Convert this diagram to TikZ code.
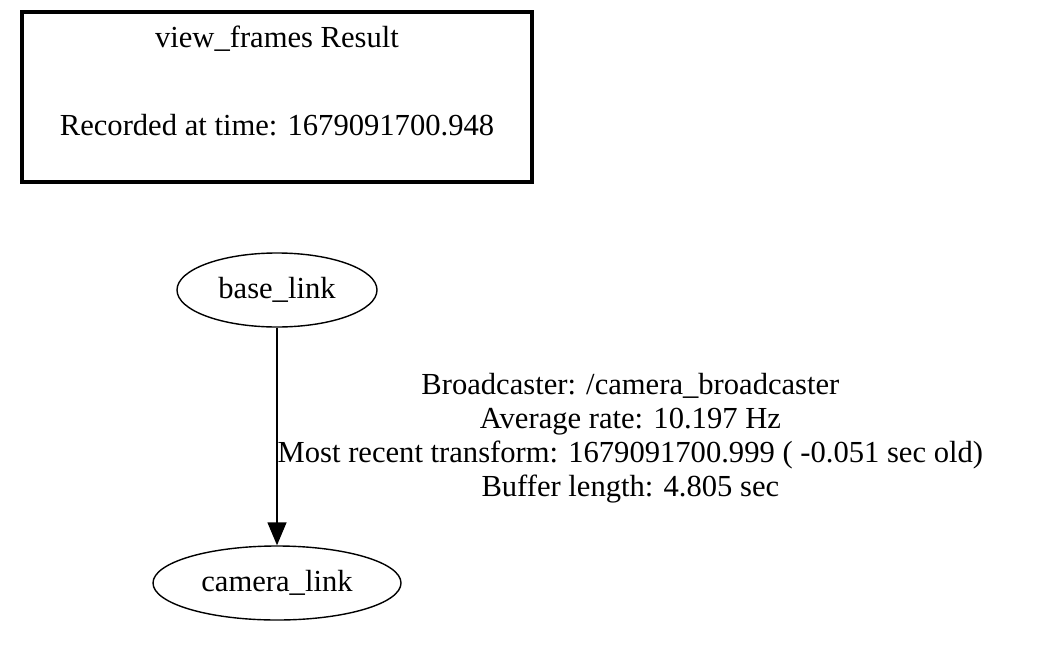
\documentclass[tikz,border=0pt]{standalone}
\usepackage{fontspec}
\setmainfont{Liberation Serif}
\usetikzlibrary{shapes.geometric,arrows.meta,positioning}
\tikzset{
  frame/.style={ellipse, draw, line width=0.7pt, inner sep=0pt},
}
\begin{document}
\begin{tikzpicture}[x=0.5pt, y=-0.5pt, node distance=146.5pt, font=\fontsize{15.3}{17}\selectfont]
  \useasboundingbox (0,0) rectangle (1043,648);
  \node[draw, line width=1.6pt, minimum width=255pt, minimum height=85pt, align=center] (result) at (277,97) {view\_frames Result\\[27pt]Recorded at time: 1679091700.948\\[-6pt]\strut};
  \node[frame, minimum width=100pt, minimum height=37pt] (base) at (277,290) {base\_link};
  \node[frame, minimum width=124pt, minimum height=37pt] (camera) [below of=base] {camera\_link};

  \draw[-{Triangle[length=11.5pt,width=9.5pt]}, line width=0.7pt] (base) -- node[midway, right, inner sep=0pt, yshift=-1pt, align=center] {Broadcaster: /camera\_broadcaster\\Average rate: 10.197 Hz\\Most recent transform: 1679091700.999 ( -0.051 sec old)\\Buffer length: 4.805 sec} (camera);
\end{tikzpicture}
\end{document}
